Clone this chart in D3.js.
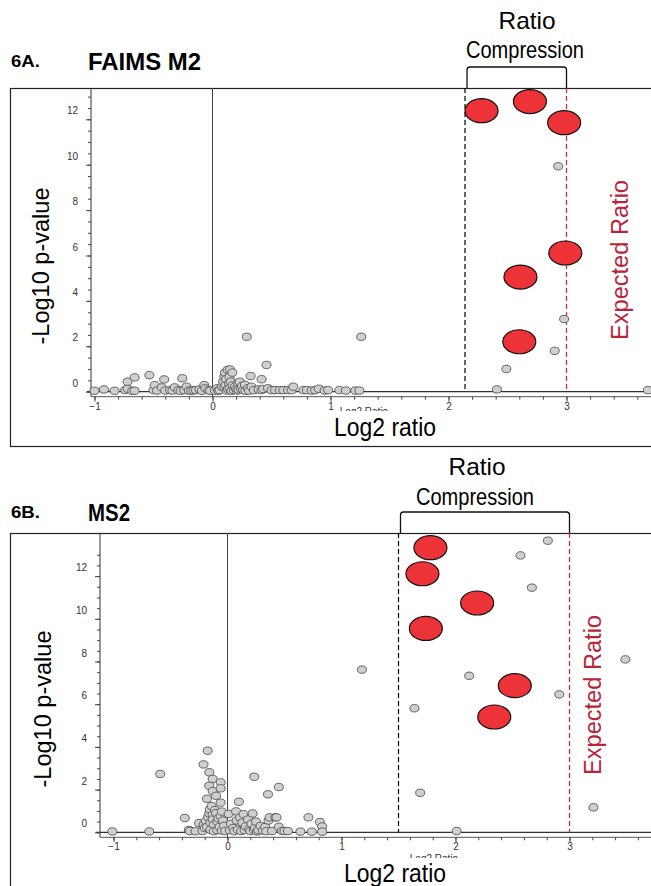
<!DOCTYPE html>
<html>
<head>
<meta charset="utf-8">
<script src="https://cdn.jsdelivr.net/npm/d3@7"></script>
<style>
  body { margin: 0; background: #fff; }
  svg text { font-family: "Liberation Sans", Arial, sans-serif; }
</style>
</head>
<body>
<div id="chart"></div>
<script>
// tick labels shared by both panels
let xTicks = [-1, 0, 1, 2, 3]
let yTicks = [0, 2, 4, 6, 8, 10, 12]
let expectedRatio = 3

// 6A. FAIMS M2 -- [log2 ratio, -log10 p]
let faimsGray = [
  [-1.00,0.04],[-0.92,0.10],[-0.83,0.04],[-0.74,0.07],[-0.72,0.13],[-0.72,0.44],[-0.68,0.04],
  [-0.66,0.04],[-0.66,0.63],[-0.535,0.73],[-0.50,0.07],[-0.49,0.29],[-0.47,0.05],[-0.43,0.19],
  [-0.41,0.54],[-0.40,0.05],[-0.36,0.07],[-0.34,0.05],[-0.32,0.19],[-0.29,0.07],[-0.27,0.04],
  [-0.256,0.59],[-0.24,0.07],[-0.22,0.22],[-0.20,0.05],[-0.18,0.04],[-0.16,0.06],[-0.14,0.07],
  [-0.11,0.10],[-0.09,0.04],[-0.07,0.29],[-0.06,0.15],[-0.035,0.07],[-0.02,0.04],
  [0.02,0.05],[0.04,0.15],[0.05,0.04],[0.06,0.07],[0.08,0.22],[0.09,0.44],[0.10,0.66],[0.10,0.18],
  [0.106,0.84],[0.11,0.30],[0.115,0.55],[0.12,0.05],[0.128,0.96],[0.13,0.12],[0.14,0.37],
  [0.145,0.66],[0.145,0.15],[0.148,0.98],[0.155,0.44],[0.16,0.04],[0.168,0.84],[0.17,0.28],
  [0.18,0.07],[0.19,0.22],[0.20,0.12],[0.21,0.05],[0.218,0.37],[0.22,0.10],[0.23,0.44],
  [0.24,0.15],[0.25,0.25],[0.26,0.07],[0.275,0.30],[0.28,0.04],[0.30,0.15],[0.31,0.05],
  [0.323,0.69],[0.33,0.22],[0.35,0.07],[0.39,0.10],[0.416,0.55],[0.416,0.07],[0.43,0.12],
  [0.458,1.18],[0.47,0.15],[0.50,0.07],[0.53,0.07],[0.57,0.07],[0.60,0.07],[0.64,0.07],
  [0.67,0.07],[0.685,0.22],[0.77,0.07],[0.80,0.07],[0.84,0.05],[0.87,0.07],[0.90,0.13],
  [0.95,0.05],[0.98,0.07],[1.075,0.07],[1.13,0.05],[1.21,0.05],[1.245,0.05],
  [0.29,2.42],[1.26,2.42],
  [2.41,0.10],[2.49,1.00],[2.90,1.80],[2.98,3.20],[2.93,9.93],[3.69,0.07]
]
let faimsHits = [[2.28,12.38],[2.69,12.78],[2.98,11.85],[2.99,6.11],[2.61,5.05],[2.60,2.20]]
let faimsCompression = 2.14

// 6B. MS2
let ms2Gray = [
  [-1.01,0.04],[-0.686,0.04],[-0.59,2.73],[-0.375,0.67],[-0.34,0.11],[-0.33,0.06],[-0.28,0.05],
  [-0.25,0.43],[-0.22,0.06],[-0.21,3.18],[-0.21,0.35],[-0.20,0.20],[-0.19,0.53],[-0.18,1.57],
  [-0.18,0.25],[-0.174,3.82],[-0.17,0.71],[-0.16,2.81],[-0.16,2.18],[-0.16,0.88],[-0.155,1.07],
  [-0.15,0.45],[-0.15,0.12],[-0.14,1.23],[-0.13,2.50],[-0.13,1.93],[-0.13,0.82],[-0.13,0.60],
  [-0.12,0.35],[-0.12,0.05],[-0.11,1.04],[-0.10,1.71],[-0.10,0.90],[-0.09,0.50],[-0.09,0.10],
  [-0.08,0.66],[-0.07,0.25],[-0.06,2.34],[-0.06,2.06],[-0.06,1.39],[-0.06,0.75],[-0.05,0.97],
  [-0.05,0.08],[-0.04,0.55],[-0.03,0.30],[-0.02,0.06],
  [0.01,0.86],[0.02,0.10],[0.03,0.40],[0.05,0.20],[0.06,0.05],[0.075,0.98],[0.08,0.55],
  [0.09,0.12],[0.10,1.43],[0.11,0.70],[0.12,0.06],[0.13,0.45],[0.14,0.85],[0.15,0.10],
  [0.16,0.28],[0.18,0.60],[0.19,0.15],[0.20,0.06],[0.21,0.40],[0.22,0.88],[0.23,0.12],
  [0.24,0.20],[0.25,0.50],[0.26,0.04],[0.27,0.10],[0.29,0.30],[0.31,0.08],[0.33,0.25],
  [0.34,0.05],[0.36,0.55],[0.37,0.70],[0.39,0.06],[0.42,0.70],[0.43,0.70],[0.45,0.26],
  [0.48,0.06],[0.50,0.06],[0.53,0.06],[0.64,0.03],[0.71,0.70],[0.74,0.03],[0.81,0.48],
  [0.83,0.27],[0.83,0.03],[0.235,2.60],[0.355,1.78],[0.45,2.12],
  [1.18,7.62],[1.64,5.81],[1.69,1.85],[2.01,0.06],[2.12,7.33],[2.57,12.97],[2.67,11.46],
  [2.81,13.66],[2.91,6.46],[3.21,1.17],[3.49,8.10]
]
let ms2Hits = [[1.78,13.33],[1.71,12.11],[2.19,10.74],[1.74,9.55],[2.52,6.87],[2.34,5.40]]
let ms2Compression = 1.5

let svg = d3.select("#chart").append("svg")
  .attr("width", 651)
  .attr("height", 886)

let panels = [
  { tag: "6A.", title: "FAIMS M2", gray: faimsGray, hits: faimsHits, comp: faimsCompression,
    frameTop: 88, frameBottom: 446, axisX: 91, xr: [94.5, 566.5], yr: [391.7, 119.3],
    tagY: 67, titleY: 70, titleW: 113, ratioX: 527, ratioY: 29, compY: 58, bracketY: 67,
    yLab: [41, 266], expLab: [620, 260], logY: 436, logX: 385, smallX: 364, smallY: 415 },
  { tag: "6B.", title: "MS2", gray: ms2Gray, hits: ms2Hits, comp: ms2Compression,
    frameTop: 533, frameBottom: 950, axisX: 100, xr: [113.5, 569.5], yr: [832.3, 576.1],
    tagY: 518, titleY: 521, titleW: 42, ratioX: 477, ratioY: 475, compY: 505, bracketY: 512,
    yLab: [43, 709], expLab: [593, 695], logY: 882, logX: 395, smallX: 434, smallY: 862 }
]

panels.forEach(function(p, k) {
  let g = svg.append("g")
  let x = d3.scaleLinear().domain([-1, 3]).range(p.xr)
  let y = d3.scaleLinear().domain([0, 12]).range(p.yr)
  let y0 = y(0)

  // frame
  g.append("rect")
    .attr("x", 10.5).attr("y", p.frameTop + 0.5)
    .attr("width", 700).attr("height", p.frameBottom - p.frameTop)
    .style("fill", "none").style("stroke", "#222").style("stroke-width", 1.2)

  // headings
  g.append("text").attr("x", 11).attr("y", p.tagY).text(p.tag)
    .style("font-size", "17px").style("font-weight", "bold")
    .attr("textLength", 29).attr("lengthAdjust", "spacingAndGlyphs")
  g.append("text").attr("x", 88).attr("y", p.titleY).text(p.title)
    .style("font-size", "24px").style("font-weight", "bold")
    .attr("textLength", p.titleW).attr("lengthAdjust", "spacingAndGlyphs")

  g.append("text").attr("x", p.ratioX).attr("y", p.ratioY).text("Ratio")
    .attr("text-anchor", "middle").style("font-size", "24px")
    .attr("textLength", 57).attr("lengthAdjust", "spacingAndGlyphs")
  g.append("text").attr("x", p.ratioX - 2).attr("y", p.compY).text("Compression")
    .attr("text-anchor", "middle").style("font-size", "24px")
    .attr("textLength", 118).attr("lengthAdjust", "spacingAndGlyphs")

  // bracket
  let bl = x(p.comp) + 2, br = x(expectedRatio), bt = p.bracketY
  g.append("path")
    .attr("d", `M${bl},${p.frameTop} L${bl},${bt + 3} Q${bl},${bt} ${bl + 3},${bt} L${br - 3},${bt} Q${br},${bt} ${br},${bt + 3} L${br},${p.frameTop}`)
    .style("fill", "none").style("stroke", "#111").style("stroke-width", 1.3)

  // zero line and vertical at 0
  g.append("line")
    .attr("x1", p.axisX - 4).attr("x2", 651).attr("y1", y0).attr("y2", y0)
    .style("stroke", "#333").style("stroke-width", 1.3)
  g.append("line")
    .attr("x1", x(0)).attr("x2", x(0)).attr("y1", p.frameTop).attr("y2", y0 + 5)
    .style("stroke", "#444").style("stroke-width", 1)

  // y axis
  g.append("line")
    .attr("x1", p.axisX).attr("x2", p.axisX).attr("y1", p.frameTop).attr("y2", y0 + 5)
    .style("stroke", "#333").style("stroke-width", 1)
  let yMinor = g.append("g").attr("transform", `translate(${p.axisX},0)`)
    .call(d3.axisLeft(y).tickValues(d3.range(0, 13.5, 0.5)).tickSize(3).tickFormat(""))
  yMinor.select(".domain").remove()
  let yAxis = g.append("g").attr("transform", `translate(${p.axisX},0)`)
    .call(d3.axisLeft(y).tickValues(yTicks).tickSize(5).tickPadding(8))
  yAxis.select(".domain").remove()
  yAxis.selectAll("text").attr("dy", "-0.55em").style("font-size", "10px").style("fill", "#333")
    .style("font-family", "\"Liberation Sans\", Arial, sans-serif")
  g.selectAll(".tick line").style("stroke", "#444")

  // x axis, slightly under the zero line
  let xa = g.append("g").attr("transform", `translate(0,${y0 + 5})`)
  xa.append("line").attr("x1", p.axisX).attr("x2", 651)
    .style("stroke", "#555").style("stroke-width", 1)
  let xMinor = xa.append("g")
    .call(d3.axisBottom(x).tickValues(d3.range(-1, 3.7, 0.2)).tickSize(3).tickFormat(""))
  xMinor.select(".domain").remove()
  let xAxis = xa.append("g")
    .call(d3.axisBottom(x).tickValues(xTicks).tickSize(5).tickPadding(1).tickFormat(d3.format("d")))
  xAxis.select(".domain").remove()
  xAxis.selectAll("text").style("font-size", "10px").style("fill", "#333")
    .style("font-family", "\"Liberation Sans\", Arial, sans-serif")
  xa.selectAll(".tick line").style("stroke", "#444")

  // dashed guides
  g.append("line")
    .attr("x1", x(p.comp)).attr("x2", x(p.comp)).attr("y1", p.frameTop).attr("y2", y0)
    .style("stroke", "#000").style("stroke-width", 1.2).style("stroke-dasharray", "5,3")
  g.append("line")
    .attr("x1", x(expectedRatio)).attr("x2", x(expectedRatio)).attr("y1", p.frameTop).attr("y2", y0)
    .style("stroke", "#d8232a").style("stroke-width", 1.2).style("stroke-dasharray", "5,3")

  // points
  g.selectAll("ellipse.gray")
    .data(p.gray)
    .enter()
    .append("ellipse")
    .attr("class", "gray")
    .attr("cx", d => x(d[0]))
    .attr("cy", d => y(d[1]))
    .attr("rx", 4.5)
    .attr("ry", 3.7)
    .style("fill", "#cfcfcf")
    .style("stroke", "#555")
    .style("stroke-width", 0.9)

  g.selectAll("ellipse.hit")
    .data(p.hits)
    .enter()
    .append("ellipse")
    .attr("class", "hit")
    .attr("cx", d => x(d[0]))
    .attr("cy", d => y(d[1]))
    .attr("rx", 16.5)
    .attr("ry", 12)
    .style("fill", "#ee3338")
    .style("stroke", "#111")
    .style("stroke-width", 1.2)

  // axis titles
  g.append("text")
    .attr("transform", `translate(${p.yLab[0]},${p.yLab[1]}) rotate(-90)`)
    .attr("text-anchor", "middle").attr("dy", "0.35em")
    .style("font-size", "24px").text("-Log10 p-value")
    .attr("textLength", 157).attr("lengthAdjust", "spacingAndGlyphs")
  g.append("text")
    .attr("transform", `translate(${p.expLab[0]},${p.expLab[1]}) rotate(-90)`)
    .attr("text-anchor", "middle").attr("dy", "0.35em")
    .style("font-size", "23px").style("fill", "#b8243a").text("Expected Ratio")
    .attr("textLength", 160).attr("lengthAdjust", "spacingAndGlyphs")

  // small original axis label, mostly hidden behind the big one
  svg.append("clipPath").attr("id", "cut" + k)
    .append("rect").attr("x", 0).attr("y", p.smallY - 10).attr("width", 651).attr("height", 6)
  g.append("text").attr("x", p.smallX).attr("y", p.smallY).text("Log2 Ratio")
    .attr("text-anchor", "middle").style("font-size", "10px").style("fill", "#333")
    .attr("clip-path", `url(#cut${k})`)
  g.append("text").attr("x", p.logX).attr("y", p.logY).text("Log2 ratio")
    .attr("text-anchor", "middle").style("font-size", "25px")
    .attr("textLength", 102).attr("lengthAdjust", "spacingAndGlyphs")
})
</script>
</body>
</html>
